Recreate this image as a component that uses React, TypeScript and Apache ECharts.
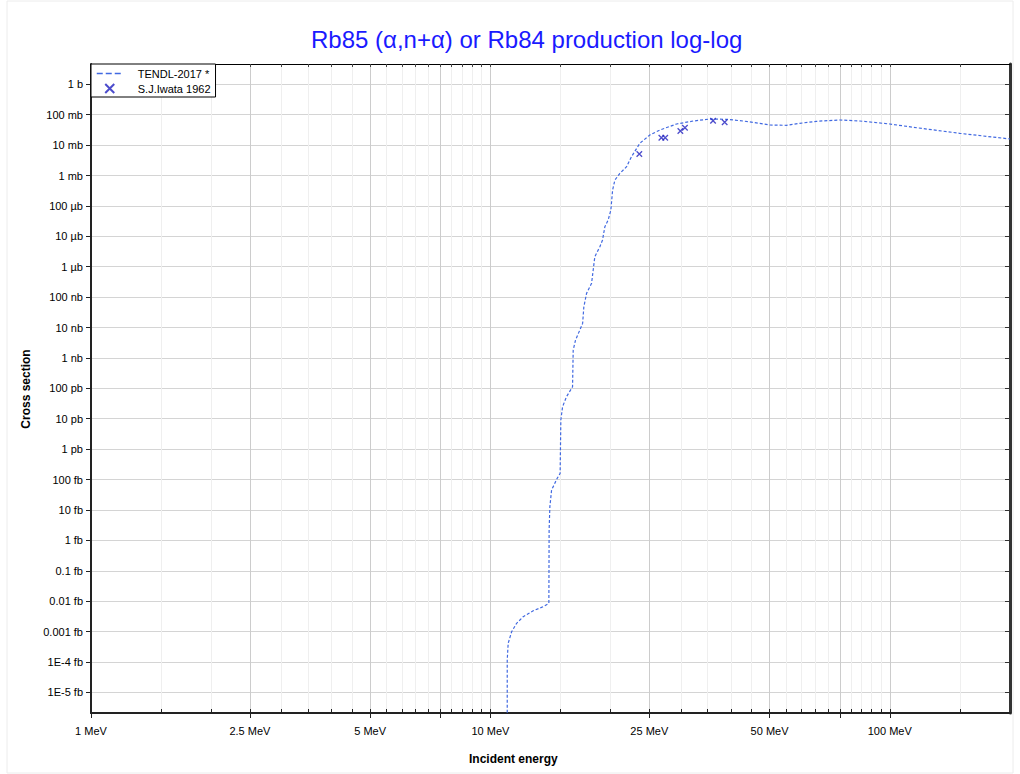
import React, { useEffect, useRef } from 'react';
import * as echarts from 'echarts';

const TITLE = 'Rb85 (α,n+α) or Rb84 production log-log';
const X_NAME = 'Incident energy';
const Y_NAME = 'Cross section';
const SERIES_TENDL = 'TENDL-2017 *';
const SERIES_IWATA = 'S.J.Iwata 1962';

// TENDL-2017 evaluated curve: incident energy (MeV) and cross section (barn)
const tendlEnergyMeV = [
  11.02, 11.02, 11.08, 11.3, 11.63, 12.08, 12.8, 13.56, 14.01, 14.03, 14.09, 14.23, 14.7, 14.95,
  15.01, 15.16, 15.51, 16.06, 16.12, 16.34, 16.75, 17.02, 17.14, 17.41, 17.92, 18.09, 18.26, 18.8,
  19.09, 19.35, 19.72, 20.03, 20.23, 20.5, 21.1, 21.93, 22.56, 23.67, 25.07, 26.57, 29.25, 32.19,
  35.43, 39.02, 42.94, 47.27, 50.07, 55.12, 59.53, 65.54, 74.96, 84.12, 100, 116.7, 149.7, 200,
];
const tendlBarn = [
  1e-21, 1.15e-19, 4.1e-19, 9.8e-19, 1.86e-18, 3.08e-18, 4.83e-18, 6.6e-18, 8.5e-18, 2.18e-15,
  1.27e-14, 4.5e-14, 1.1e-13, 1.6e-13, 9.1e-12, 2.48e-11, 5.3e-11, 1.13e-10, 1.82e-9, 3.9e-9,
  8.3e-9, 1.37e-8, 4.8e-8, 1.33e-7, 2.85e-7, 7.8e-7, 2.13e-6, 4.55e-6, 7.6e-6, 2.07e-5, 3.44e-5,
  7.3e-5, 3.33e-4, 7.1e-4, 1.18e-3, 1.95e-3, 4.15e-3, 1.15e-2, 2.15e-2, 3.14e-2, 4.94e-2, 6.2e-2,
  7.2e-2, 7.06e-2, 6.2e-2, 5.2e-2, 4.58e-2, 4.48e-2, 5.2e-2, 6.07e-2, 6.7e-2, 6.2e-2, 4.94e-2,
  3.73e-2, 2.44e-2, 1.59e-2,
];

// S.J.Iwata 1962 measurements: energy (MeV), cross section (barn)
const iwataEnergyMeV = [23.6, 26.8, 27.4, 29.9, 30.7, 36.1, 38.6];
const iwataBarn = [0.0051, 0.0175, 0.0175, 0.0291, 0.0373, 0.0635, 0.0562];

// Axis ticks
const xMin = 1;
const xMax = 200;
const xMajorTicks = [1, 2.5, 5, 7.5, 10, 25, 50, 75, 100];
const xLabelValues = [1, 2.5, 5, 10, 25, 50, 100];
const xMinorTicks = [
  1.5, 2, 3, 3.5, 4, 4.5, 5.5, 6, 6.5, 7, 8, 8.5, 9, 9.5, 15, 20, 30, 35, 40, 45, 55, 60, 65, 70,
  80, 85, 90, 95, 150,
];
const yMin = 2.1e-21;
const yMax = 4.65;
const yTickValues = [
  1, 1e-1, 1e-2, 1e-3, 1e-4, 1e-5, 1e-6, 1e-7, 1e-8, 1e-9, 1e-10, 1e-11, 1e-12, 1e-13, 1e-14,
  1e-15, 1e-16, 1e-17, 1e-18, 1e-19, 1e-20,
];
const yTickLabels = [
  '1 b', '100 mb', '10 mb', '1 mb', '100 µb', '10 µb', '1 µb', '100 nb', '10 nb', '1 nb', '100 pb',
  '10 pb', '1 pb', '100 fb', '10 fb', '1 fb', '0.1 fb', '0.01 fb', '0.001 fb', '1E-4 fb', '1E-5 fb',
];

const FONT = 'Arial, "Liberation Sans", Helvetica, sans-serif';

export default function App() {
  const ref = useRef<HTMLDivElement>(null);

  useEffect(() => {
    if (!ref.current) return;
    const chart = echarts.init(ref.current, null, { renderer: 'svg' });

    const yLabel = (v: number) => {
      let best = 0;
      let bd = Infinity;
      yTickValues.forEach((t, i) => {
        const d = Math.abs(Math.log10(t) - Math.log10(v));
        if (d < bd) {
          bd = d;
          best = i;
        }
      });
      return yTickLabels[best];
    };

    const baseX = {
      type: 'log' as const,
      gridIndex: 0,
      min: xMin,
      max: xMax,
      logBase: 10,
    };
    const baseY = {
      type: 'log' as const,
      gridIndex: 0,
      min: yMin,
      max: yMax,
      logBase: 10,
    };

    chart.setOption({
      animation: false,
      backgroundColor: '#ffffff',
      textStyle: { fontFamily: FONT },
      title: {
        text: TITLE,
        left: 306,
        top: 22,
        textStyle: { color: '#1a1aff', fontSize: 24, fontWeight: 'normal', fontFamily: FONT },
      },
      grid: { left: 91, right: 10, top: 64, bottom: 61, containLabel: false },
      legend: {
        orient: 'vertical',
        left: 91,
        top: 64,
        padding: [4, 5, 3, 5],
        itemGap: 4,
        itemWidth: 26,
        itemHeight: 9,
        backgroundColor: '#ffffff',
        borderColor: '#000000',
        borderWidth: 1,
        borderRadius: 0,
        data: [
          {
            name: SERIES_TENDL,
            itemStyle: { opacity: 0 },
            lineStyle: { type: 'dashed', width: 1.5, color: '#4169e1' },
          },
          { name: SERIES_IWATA },
        ],
        textStyle: { fontSize: 11, color: '#000000', fontFamily: FONT, padding: [0, 0, 0, 10] },
      },
      xAxis: [
        {
          ...baseX,
          position: 'bottom',
          axisLine: { show: true, onZero: false, lineStyle: { color: '#222222', width: 2 } },
          axisTick: {
            show: true,
            inside: false,
            length: 5,
            customValues: xMajorTicks,
            lineStyle: { color: '#222222', width: 1 },
          },
          axisLabel: {
            show: true,
            customValues: xLabelValues,
            formatter: (v: number) => `${v} MeV`,
            fontSize: 11,
            color: '#000000',
            margin: 12,
            fontFamily: FONT,
          },
          splitLine: { show: true, lineStyle: { color: '#cccccc', width: 1 } },
        },
        {
          ...baseX,
          position: 'bottom',
          axisLine: { show: false, onZero: false },
          axisTick: {
            show: true,
            inside: true,
            length: 4,
            customValues: xMinorTicks,
            lineStyle: { color: '#222222', width: 1 },
          },
          axisLabel: { show: false },
          splitLine: { show: true, lineStyle: { color: '#efefef', width: 1 } },
        },
        {
          ...baseX,
          position: 'bottom',
          axisLine: { show: false, onZero: false },
          axisTick: {
            show: true,
            inside: true,
            length: 4,
            customValues: xMajorTicks,
            lineStyle: { color: '#222222', width: 1 },
          },
          axisLabel: { show: false },
          splitLine: { show: false },
        },
        {
          ...baseX,
          position: 'top',
          axisLine: { show: true, onZero: false, lineStyle: { color: '#000000', width: 1 } },
          axisTick: {
            show: true,
            inside: true,
            length: 3,
            customValues: [...xMajorTicks, ...xMinorTicks],
            lineStyle: { color: '#444444', width: 1 },
          },
          axisLabel: { show: false },
          splitLine: { show: false },
        },
      ],
      yAxis: [
        {
          ...baseY,
          position: 'left',
          axisLine: { show: true, onZero: false, lineStyle: { color: '#222222', width: 2 } },
          axisTick: {
            show: true,
            inside: false,
            length: 5,
            customValues: yTickValues,
            lineStyle: { color: '#222222', width: 1 },
          },
          axisLabel: {
            show: true,
            customValues: yTickValues,
            formatter: yLabel,
            fontSize: 11,
            color: '#000000',
            margin: 8,
            fontFamily: FONT,
          },
          splitLine: { show: true, lineStyle: { color: '#d4d4d4', width: 1 } },
        },
        {
          ...baseY,
          position: 'right',
          axisLine: { show: true, onZero: false, lineStyle: { color: '#333333', width: 3 } },
          axisTick: {
            show: true,
            inside: true,
            length: 5,
            customValues: yTickValues,
            lineStyle: { color: '#333333', width: 1 },
          },
          axisLabel: { show: false },
          splitLine: { show: false },
        },
      ],
      series: [
        {
          name: SERIES_TENDL,
          type: 'line',
          xAxisIndex: 0,
          yAxisIndex: 0,
          data: tendlEnergyMeV.map((e, i) => [e, tendlBarn[i]]),
          symbol: 'none',
          showSymbol: false,
          clip: true,
          smooth: false,
          lineStyle: { color: '#4169e1', width: 1.2, type: [3, 2] },
          itemStyle: { color: '#4169e1' },
          z: 3,
        },
        {
          name: SERIES_IWATA,
          type: 'scatter',
          xAxisIndex: 0,
          yAxisIndex: 0,
          data: iwataEnergyMeV.map((e, i) => [e, iwataBarn[i]]),
          symbol: 'path://M0,0L10,10M0,10L10,0',
          symbolSize: 5.5,
          itemStyle: { color: 'rgba(0,0,0,0)', borderColor: '#1f1fbf', borderWidth: 1.3 },
          z: 4,
        },
      ],
      graphic: [
        {
          type: 'text',
          left: 521 - 52,
          top: 753,
          style: {
            text: X_NAME,
            font: `bold 12px ${FONT}`,
            fill: '#000000',
          },
        },
        {
          type: 'text',
          x: 20,
          y: 389,
          rotation: Math.PI / 2,
          style: {
            text: Y_NAME,
            font: `bold 12px ${FONT}`,
            fill: '#000000',
            align: 'center',
            verticalAlign: 'top',
          },
        },
        {
          type: 'rect',
          shape: { x: 7, y: 1, width: 1006, height: 772 },
          style: { fill: 'none', stroke: '#ececec', lineWidth: 1 },
          silent: true,
          z: -10,
        },
      ],
    });

    return () => chart.dispose();
  }, []);

  return (
    <div
      ref={ref}
      style={{ position: 'fixed', left: 0, top: 0, width: 1020, height: 774, background: '#ffffff' }}
    />
  );
}
